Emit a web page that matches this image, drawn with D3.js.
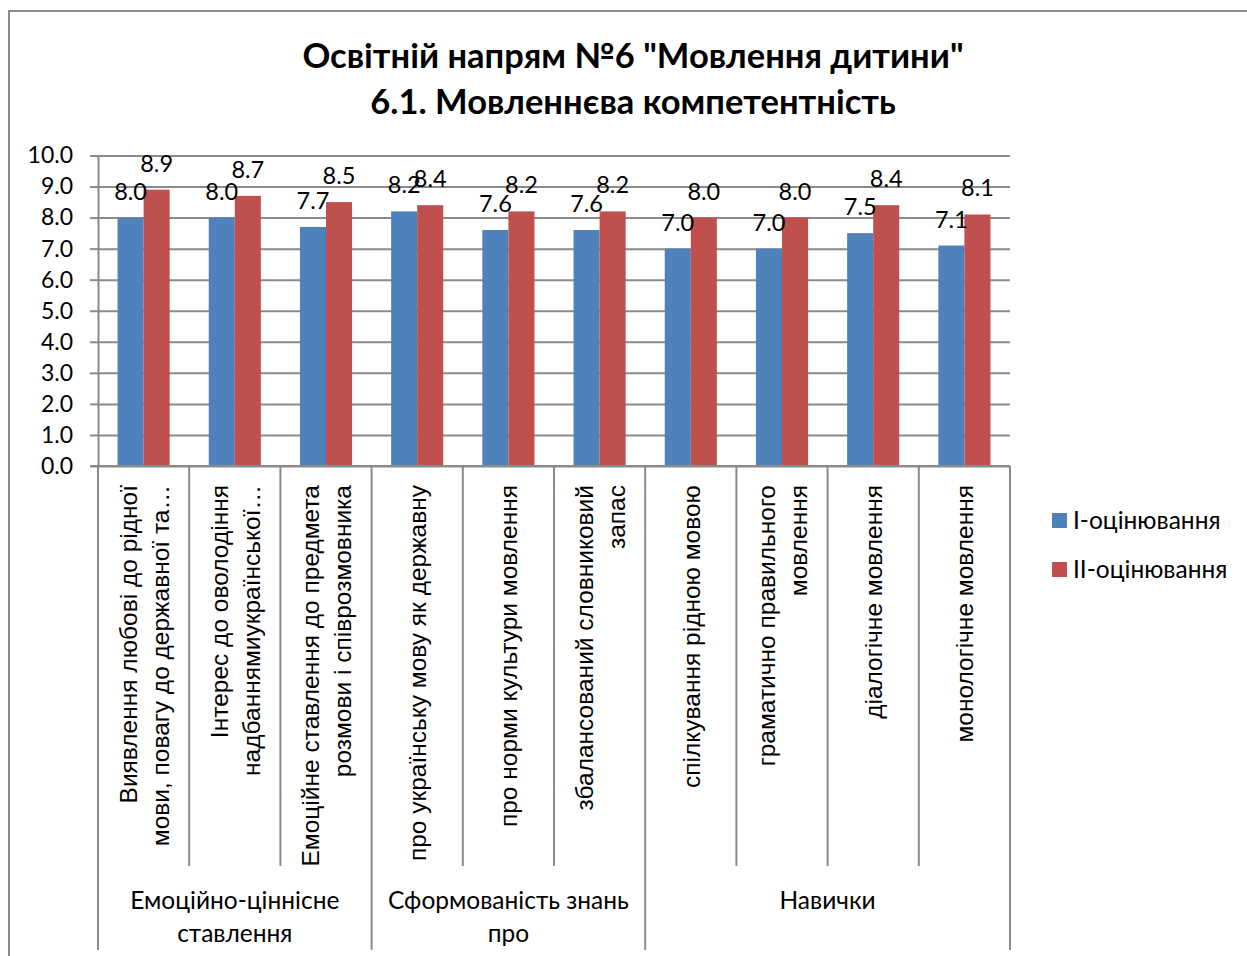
<!DOCTYPE html>
<html>
<head>
<meta charset="utf-8">
<script src="https://cdn.jsdelivr.net/npm/d3@7"></script>
<style>
  body { margin: 0; background: #fff; }
  svg { display: block; }
</style>
</head>
<body>
<svg id="chart" width="1247" height="956"></svg>
<script>
// category labels (lines as they wrap in the picture)
const categoryLines = [
  ["Виявлення любові до рідної", "мови, повагу до державної та…"],
  ["Інтерес до оволодіння", "надбаннямиукраїнської…"],
  ["Емоційне ставлення до предмета", "розмови і співрозмовника"],
  ["про українську мову як державну"],
  ["про норми культури мовлення"],
  ["збалансований словниковий", "запас"],
  ["спілкування рідною мовою"],
  ["граматично правильного", "мовлення"],
  ["діалогічне мовлення"],
  ["монологічне мовлення"]
];
const groupLines = [
  ["Емоційно-ціннісне", "ставлення"],
  ["Сформованість знань", "про"],
  ["Навички"]
];
const groupSizes = [3, 3, 4];
const seriesNames = ["І-оцінювання", "ІІ-оцінювання"];
const series1 = [8.0, 8.0, 7.7, 8.2, 7.6, 7.6, 7.0, 7.0, 7.5, 7.1];
const series2 = [8.9, 8.7, 8.5, 8.4, 8.2, 8.2, 8.0, 8.0, 8.4, 8.1];
const yTicks = [0, 1, 2, 3, 4, 5, 6, 7, 8, 9, 10];
const colors = ["#4F81BD", "#C0504D"];

const gridColor = "#8a8a8a";
const svg = d3.select("#chart");

// chart frame (right and bottom edges fall outside the picture)
svg.append("rect")
  .attr("x", 9).attr("y", 11)
  .attr("width", 1260).attr("height", 980)
  .attr("fill", "#fff")
  .attr("stroke", gridColor).attr("stroke-width", 2);

// title
const title = svg.append("text")
  .attr("text-anchor", "middle")
  .attr("font-family", "Lato")
  .attr("font-weight", "bold")
  .attr("font-size", 34.5)
  .attr("fill", "#000");
title.append("tspan").attr("x", 633).attr("y", 68).text("Освітній напрям №6 \"Мовлення дитини\"");
title.append("tspan").attr("x", 633).attr("y", 114).text("6.1. Мовленнєва компетентність");

const plotLeft = 98, plotRight = 1010, plotTop = 155.5, plotBottom = 466;

const x = d3.scaleBand()
  .domain(d3.range(categoryLines.length))
  .range([plotLeft, plotRight])
  .padding(0);
const xs = d3.scaleBand()
  .domain([0, 1])
  .range([0, x.bandwidth()])
  .paddingInner(0)
  .paddingOuter(0.75);
const y = d3.scaleLinear().domain([0, 10]).range([plotBottom, plotTop]);

// gridlines
svg.append("g")
  .attr("transform", `translate(${plotLeft},0)`)
  .call(d3.axisLeft(y).tickValues(yTicks).tickSize(-(plotRight - plotLeft)).tickFormat(""))
  .call(g => g.select(".domain").remove())
  .call(g => g.selectAll("line").attr("stroke", gridColor).attr("stroke-width", 2));

// y axis
svg.append("g")
  .attr("transform", `translate(${plotLeft},0)`)
  .call(d3.axisLeft(y).tickValues(yTicks).tickSize(8).tickPadding(17).tickSizeOuter(0).tickFormat(d3.format(".1f")))
  .call(g => g.select(".domain").attr("stroke", gridColor).attr("stroke-width", 2))
  .call(g => g.selectAll("line").attr("stroke", gridColor).attr("stroke-width", 2))
  .call(g => g.selectAll("text")
    .attr("font-family", "Lato")
    .attr("font-size", 23)
    .attr("fill", "#000"));

// bars
const seriesData = [series1, series2];
seriesData.forEach((vals, s) => {
  svg.append("g").selectAll("rect")
    .data(vals)
    .join("rect")
    .attr("x", (d, i) => x(i) + xs(s))
    .attr("y", d => y(d))
    .attr("width", xs.bandwidth())
    .attr("height", d => y(0) - y(d))
    .attr("fill", colors[s]);
});

// data labels
seriesData.forEach((vals, s) => {
  svg.append("g").selectAll("text")
    .data(vals)
    .join("text")
    .attr("x", (d, i) => x(i) + xs(s) + xs.bandwidth() / 2)
    .attr("y", d => y(d) - 18)
    .attr("text-anchor", "middle")
    .attr("font-family", "Lato")
    .attr("font-size", 23.5)
    .attr("fill", "#000")
    .text(d => d3.format(".1f")(d));
});

// horizontal axis line
svg.append("line")
  .attr("x1", plotLeft - 8).attr("x2", plotRight)
  .attr("y1", plotBottom).attr("y2", plotBottom)
  .attr("stroke", gridColor).attr("stroke-width", 2);

// category separators and group separators
const groupStarts = [0];
groupSizes.forEach(n => groupStarts.push(groupStarts[groupStarts.length - 1] + n));
for (let i = 0; i <= categoryLines.length; i++) {
  const xp = i < categoryLines.length ? x(i) : plotRight;
  const isGroup = groupStarts.includes(i);
  svg.append("line")
    .attr("x1", xp).attr("x2", xp)
    .attr("y1", plotBottom).attr("y2", isGroup ? 950 : 866)
    .attr("stroke", gridColor).attr("stroke-width", 2);
}

// rotated category labels
const lineGap = 32;
categoryLines.forEach((lines, i) => {
  const cx = x(i) + x.bandwidth() / 2;
  lines.forEach((ln, j) => {
    const off = (j - (lines.length - 1) / 2) * lineGap;
    svg.append("text")
      .attr("transform", `translate(${cx + off + 9},485) rotate(-90)`)
      .attr("text-anchor", "end")
      .attr("font-family", "Liberation Sans")
      .attr("font-size", 24.5)
      .attr("fill", "#000")
      .text(ln);
  });
});

// group labels
groupLines.forEach((lines, g) => {
  const x0 = x(groupStarts[g]);
  const x1 = groupStarts[g + 1] < categoryLines.length ? x(groupStarts[g + 1]) : plotRight;
  lines.forEach((ln, j) => {
    svg.append("text")
      .attr("x", (x0 + x1) / 2)
      .attr("y", 909 + j * 33)
      .attr("text-anchor", "middle")
      .attr("font-family", "Lato")
      .attr("font-size", 24.5)
      .attr("fill", "#000")
      .text(ln);
  });
});

// legend
const legend = svg.append("g").attr("transform", "translate(1052,513)");
seriesNames.forEach((name, i) => {
  legend.append("rect")
    .attr("x", 0).attr("y", i * 49)
    .attr("width", 15).attr("height", 15)
    .attr("fill", colors[i]);
  legend.append("text")
    .attr("x", 21).attr("y", i * 49 + 16)
    .attr("font-family", "Lato")
    .attr("font-size", 24.5)
    .attr("fill", "#000")
    .text(name);
});
</script>
</body>
</html>
